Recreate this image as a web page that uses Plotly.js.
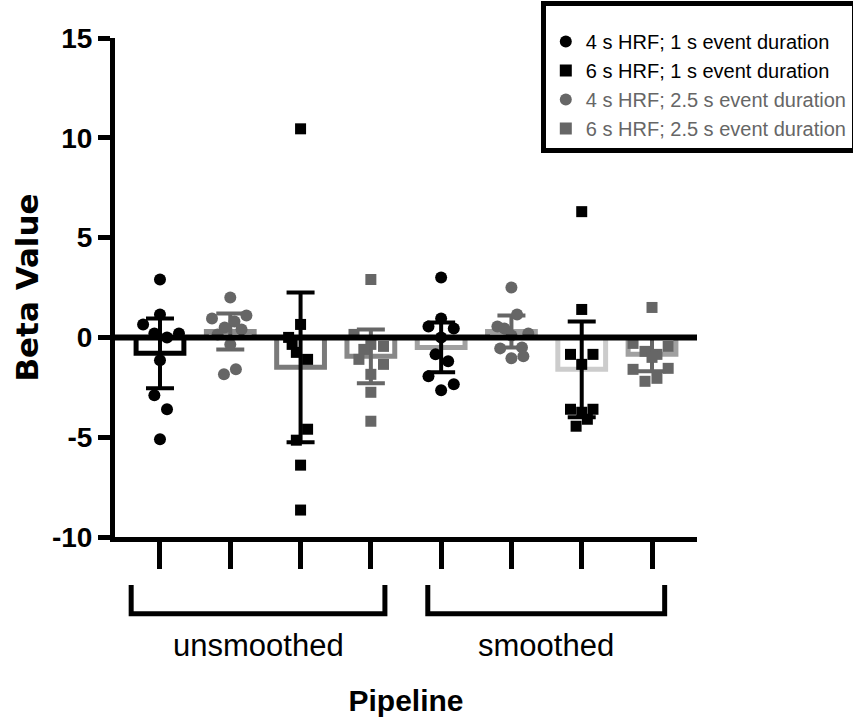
<!DOCTYPE html>
<html><head><meta charset="utf-8">
<script src="https://cdn.plot.ly/plotly-3.0.1.min.js"></script>
<style>html,body{margin:0;padding:0;background:#fff}#chart{width:853px;height:725px}</style>
</head><body><div id="chart"></div>
<script>
// Series (legend order)
const seriesNames = [
  "4 s HRF; 1 s event duration",
  "6 s HRF; 1 s event duration",
  "4 s HRF; 2.5 s event duration",
  "6 s HRF; 2.5 s event duration"
];
const pipelines = ["unsmoothed", "smoothed"];
// x slot of each series within a pipeline block (4 slots per block)
const seriesSlot = [0, 2, 1, 3];

// y tick labels
const yTickVals = [-10, -5, 0, 5, 10, 15];
const yTickText = ["-10", "-5", "0", "5", "10", "15"];

// Bar means [unsmoothed, smoothed] per series
const meanS1 = [-0.8, -0.5];
const meanS2 = [-1.5, -1.6];
const meanS3 = [0.3, 0.3];
const meanS4 = [-0.95, -0.85];
// Error (SD) per series
const sdS1 = [1.75, 1.25];
const sdS2 = [3.75, 2.4];
const sdS3 = [0.9, 0.8];
const sdS4 = [1.35, 0.85];

// Individual beta values per series and pipeline
const s1Unsm = [2.9, 1.15, 0.65, 0.2, 0.2, 0.0, -1.15, -2.9, -3.6, -5.1];
const s1Smo  = [3.0, 0.95, 0.55, 0.45, 0.0, -0.85, -1.2, -1.95, -2.35, -2.65];
const s2Unsm = [10.45, 0.65, 0.0, -0.35, -0.75, -1.1, -4.6, -5.15, -6.4, -8.65];
const s2Smo  = [6.3, 1.4, -0.85, -0.85, -1.35, -3.6, -3.6, -3.75, -4.1, -4.45];
const s3Unsm = [2.0, 0.95, 1.1, 0.8, 0.5, 0.4, 0.15, -0.35, -1.6, -1.85];
const s3Smo  = [2.5, 1.15, 0.55, 0.45, 0.2, 0.1, -0.5, -0.55, -0.95, -1.05];
const s4Unsm = [2.9, 0.15, -0.35, -0.45, -0.6, -1.1, -1.35, -1.85, -2.75, -4.2];
const s4Smo  = [1.5, -0.3, -0.45, -0.7, -0.85, -1.0, -1.6, -1.55, -2.2, -2.05];

// Horizontal scatter (jitter) of the points, in category widths
const s1UnsmJit = [0, 0, -0.24, -0.08, 0.27, 0.1, 0, -0.08, 0.1, 0];
const s1SmoJit  = [0, 0, -0.18, 0.18, 0, -0.08, 0.1, -0.18, 0.18, 0];
const s2UnsmJit = [0, 0, -0.17, -0.12, -0.06, 0.1, 0.1, -0.06, 0, 0];
const s2SmoJit  = [0, 0, -0.16, 0.16, 0, -0.16, 0.16, 0, 0.08, -0.08];
const s3UnsmJit = [0, -0.26, 0.23, 0.06, -0.08, 0.16, -0.18, 0, 0.08, -0.09];
const s3SmoJit  = [0, 0.08, -0.2, -0.1, 0.24, 0, 0.15, -0.16, 0.17, 0];
const s4UnsmJit = [0, -0.24, 0, 0.18, -0.1, -0.17, 0.18, 0, 0, 0];
const s4SmoJit  = [0, -0.27, 0.23, -0.1, 0.07, 0, -0.27, 0.23, -0.1, 0.07];

const means = [meanS1, meanS2, meanS3, meanS4];
const sds = [sdS1, sdS2, sdS3, sdS4];
const pts = [[s1Unsm, s1Smo], [s2Unsm, s2Smo], [s3Unsm, s3Smo], [s4Unsm, s4Smo]];
const jit = [[s1UnsmJit, s1SmoJit], [s2UnsmJit, s2SmoJit], [s3UnsmJit, s3SmoJit], [s4UnsmJit, s4SmoJit]];

// Styles
const pointColor = ["#000000", "#000000", "#666666", "#666666"];
const pointSymbol = ["circle", "square", "circle", "square"];
const pointSize = [12, 11, 12, 11];
const errColor = ["#000000", "#000000", "#666666", "#666666"];
const barLine = [["#000000", "#a0a0a0"], ["#7a7a7a", "#cccccc"], ["#8c8c8c", "#a0a0a0"], ["#888888", "#a0a0a0"]];

const FONT = "Liberation Sans, Arial, sans-serif";
const WIDEB = "DejaVu Sans, Liberation Sans, sans-serif";

const traces = [];
for (let s = 0; s < 4; s++) {
  const xs = [0, 1].map(p => p * 4 + seriesSlot[s]);
  traces.push({
    type: "bar", x: xs, y: means[s], width: 0.68, showlegend: false, hoverinfo: "skip",
    marker: { color: "#ffffff", line: { color: barLine[s], width: 5 } },
    error_y: { type: "data", array: sds[s], visible: true, color: errColor[s], thickness: 4, width: 14 }
  });
}
for (let s = 0; s < 4; s++) {
  let x = [], y = [];
  for (let p = 0; p < 2; p++) {
    const base = p * 4 + seriesSlot[s];
    pts[s][p].forEach((v, i) => { x.push(base + jit[s][p][i]); y.push(v); });
  }
  const nm = s >= 2 ? '<span style="color:#666666">' + seriesNames[s] + '</span>' : seriesNames[s];
  traces.push({
    type: "scatter", mode: "markers", x: x, y: y, name: nm,
    marker: { color: pointColor[s], symbol: pointSymbol[s], size: pointSize[s] }
  });
}

const bracketTop = -0.096, bracketBot = -0.154;
const blocks = [[-0.41, 3.2], [3.81, 7.18]];
const shapes = [{
  type: "line", xref: "paper", yref: "y", x0: 0, x1: 1, y0: 0, y1: 0,
  line: { color: "#000", width: 6 }, layer: "above"
}];
blocks.forEach(b => {
  shapes.push({ type: "path", xref: "x", yref: "paper",
    path: `M ${b[0]} ${bracketTop} L ${b[0]} ${bracketBot} L ${b[1]} ${bracketBot} L ${b[1]} ${bracketTop}`,
    line: { color: "#000", width: 5 } });
});

const annotations = pipelines.map((t, i) => ({
  text: t, xref: "x", yref: "paper", x: (blocks[i][0] + blocks[i][1]) / 2, y: -0.218,
  showarrow: false, font: { family: FONT, size: 31, color: "#000" }, xanchor: "center", yanchor: "middle"
}));

const layout = {
  width: 853, height: 725,
  margin: { l: 115, r: 156, t: 38, b: 188, autoexpand: false },
  paper_bgcolor: "#fff", plot_bgcolor: "#fff",
  barmode: "overlay",
  showlegend: true,
  legend: {
    xref: "container", yref: "container",
    x: 0.634, y: 0.998, xanchor: "left", yanchor: "top",
    bordercolor: "#000", borderwidth: 5, bgcolor: "#fff",
    font: { family: FONT, size: 20, color: "#000" },
    title: { text: "\u00a0", font: { family: FONT, size: 12, color: "#000" } },
    itemsizing: "constant", tracegroupgap: 0
  },
  xaxis: {
    range: [-0.64, 7.64], tickvals: [0, 1, 2, 3, 4, 5, 6, 7], showticklabels: false,
    ticks: "outside", ticklen: 27, tickwidth: 5, tickcolor: "#000",
    showline: true, linewidth: 5, linecolor: "#000", showgrid: false, zeroline: false,
    title: { text: "Pipeline", font: { family: FONT, size: 30, weight: "bold", color: "#000" }, standoff: 123 }
  },
  yaxis: {
    range: [-10, 15], tickvals: yTickVals, ticktext: yTickText,
    ticks: "outside", ticklen: 12, tickwidth: 5, tickcolor: "#000",
    tickfont: { family: FONT, size: 28, weight: "bold", color: "#000" },
    showline: true, linewidth: 5, linecolor: "#000", showgrid: false, zeroline: false,
    title: { text: "Beta Value", font: { family: WIDEB, size: 31, weight: "bold", color: "#000" }, standoff: 6 }
  },
  shapes: shapes,
  annotations: annotations
};

Plotly.newPlot("chart", traces, layout, { displayModeBar: false, staticPlot: true });
</script>
</body></html>
